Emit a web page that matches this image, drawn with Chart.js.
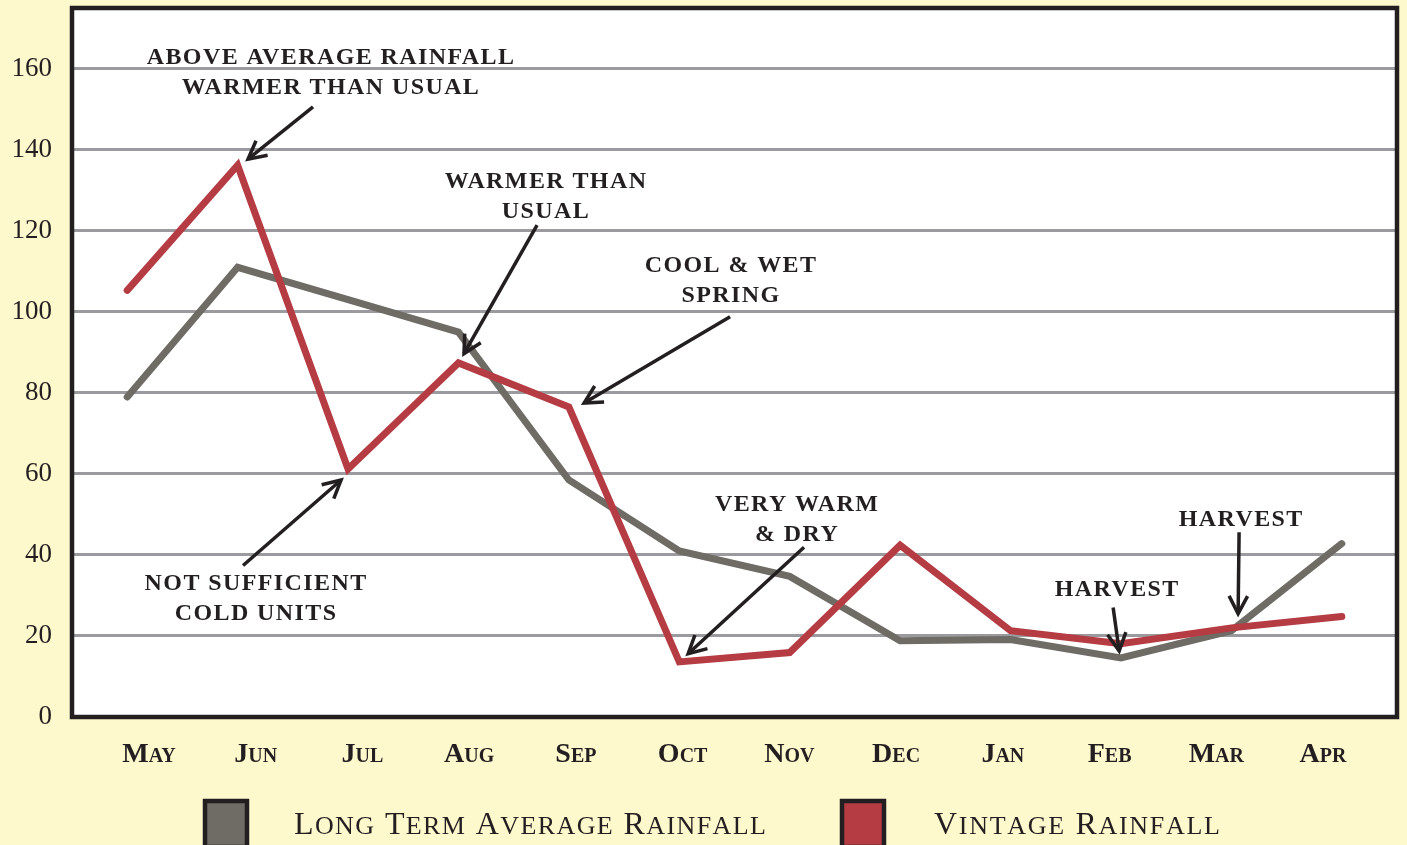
<!DOCTYPE html>
<html>
<head>
<meta charset="utf-8">
<script src="https://cdn.jsdelivr.net/npm/chart.js@4.4.1/dist/chart.umd.min.js"></script>
<style>
html,body{margin:0;padding:0;background:#fef8cd;}
#wrap{width:1407px;height:845px;position:relative;}
</style>
</head>
<body>
<div id="wrap"><canvas id="c" width="1407" height="845"></canvas></div>
<script>
// ---- data ----
const months = ['May','Jun','Jul','Aug','Sep','Oct','Nov','Dec','Jan','Feb','Mar','Apr'];
const longTermAverage = [79, 111, 103, 95, 58.5, 41, 34.7, 18.8, 19.1, 14.6, 21.3, 42.8];
const vintageRainfall = [105.3, 136.2, 61.2, 87.4, 76.5, 13.6, 15.9, 42.4, 21.3, 18.1, 22, 24.8];
const yTickValues = [0, 20, 40, 60, 80, 100, 120, 140, 160];
const seriesNames = ['Long Term Average Rainfall', 'Vintage Rainfall'];

// annotation notes (anchored in data space: [category index, value])
const notes = [
  {lines:['ABOVE AVERAGE RAINFALL','WARMER THAN USUAL'], text:[1.846,163.5], tail:[1.683,150.6], tip:[1.094,137.7]},
  {lines:['WARMER THAN','USUAL'], text:[3.793,132.8], tail:[3.712,121.4], tip:[3.05,89.7]},
  {lines:['COOL & WET','SPRING'], text:[5.469,112.2], tail:[5.46,98.8], tip:[4.138,77.5]},
  {lines:['VERY WARM','& DRY'], text:[6.067,53.0], tail:[6.13,41.9], tip:[5.08,15.6]},
  {lines:['NOT SUFFICIENT','COLD UNITS'], text:[1.167,33.7], tail:[1.049,37.4], tip:[1.937,58.5]},
  {lines:['HARVEST'], text:[8.966,32.2], tail:[8.929,27.0], tip:[8.984,16.3]},
  {lines:['HARVEST'], text:[10.089,49.5], tail:[10.07,45.6], tip:[10.061,25.5]}
];

const INK = '#231f20';
const GRAY = '#6f6b65';
const RED = '#b63c44';
const BG = '#fef8cd';
const FAM = '"Liberation Serif"';

function px(chart, p){
  const xs = chart.scales.x, ys = chart.scales.y;
  const x0 = xs.getPixelForValue(0), x1 = xs.getPixelForValue(1);
  return [x0 + (x1 - x0) * p[0], ys.getPixelForValue(p[1])];
}

function zeroPad(s){ s.paddingTop = 0; s.paddingBottom = 0; s.paddingLeft = 0; s.paddingRight = 0; }

// draw text in small caps: initial capitals large, the rest uppercase at a smaller size
function smallCaps(ctx, text, x, y, big, small, spacing){
  let cx = x;
  ctx.letterSpacing = spacing + 'px';
  text.split('').forEach(ch => {
    const isCap = ch === ch.toUpperCase() && ch !== ' ';
    const size = (isCap || ch === ' ') ? big : small;
    ctx.font = size + 'px ' + FAM;
    const c = ch.toUpperCase();
    ctx.fillText(c, cx, y);
    cx += ctx.measureText(c).width;
  });
}

const decor = {
  id: 'decor',
  beforeDraw(chart){
    const {ctx, chartArea:a} = chart;
    ctx.save();
    ctx.fillStyle = BG;
    ctx.fillRect(0,0,chart.width,chart.height);
    ctx.fillStyle = '#ffffff';
    ctx.fillRect(a.left,a.top,a.right-a.left,a.bottom-a.top);
    ctx.restore();
  },
  afterDraw(chart){
    const {ctx, chartArea:a} = chart;
    ctx.save();
    // frame
    ctx.strokeStyle = INK;
    ctx.lineWidth = 4.5;
    ctx.strokeRect(a.left, a.top, a.right-a.left, a.bottom-a.top);
    // notes
    ctx.fillStyle = INK;
    ctx.strokeStyle = INK;
    ctx.font = 'bold 24px ' + FAM;
    ctx.letterSpacing = '1.4px';
    ctx.textAlign = 'center';
    ctx.textBaseline = 'middle';
    notes.forEach(n => {
      const [tx, ty] = px(chart, n.text);
      n.lines.forEach((l, i) => ctx.fillText(l, tx, ty + 3 + i * 30));
      const [x1, y1] = px(chart, n.tail);
      const [x2, y2] = px(chart, n.tip);
      ctx.lineWidth = 3.5;
      ctx.lineCap = 'butt';
      ctx.beginPath(); ctx.moveTo(x1,y1); ctx.lineTo(x2,y2); ctx.stroke();
      const ang = Math.atan2(y2-y1, x2-x1);
      const L = 20, w = 0.48;
      ctx.beginPath();
      ctx.moveTo(x2 - L*Math.cos(ang-w), y2 - L*Math.sin(ang-w));
      ctx.lineTo(x2, y2);
      ctx.lineTo(x2 - L*Math.cos(ang+w), y2 - L*Math.sin(ang+w));
      ctx.lineJoin = 'miter';
      ctx.stroke();
    });
    // legend
    const items = [
      {ds: 0, boxX: 205, textX: 294, sp: 1.4},
      {ds: 1, boxX: 842, textX: 934, sp: 1.7}
    ];
    ctx.textAlign = 'left';
    ctx.textBaseline = 'alphabetic';
    items.forEach(it => {
      const ds = chart.data.datasets[it.ds];
      ctx.fillStyle = ds.borderColor;
      ctx.fillRect(it.boxX, 801, 42, 46);
      ctx.strokeStyle = INK;
      ctx.lineWidth = 4.5;
      ctx.strokeRect(it.boxX, 801, 42, 46);
      ctx.fillStyle = INK;
      smallCaps(ctx, ds.label, it.textX, 834, 32, 26, it.sp);
    });
    ctx.restore();
  }
};

new Chart(document.getElementById('c'), {
  type: 'line',
  data: {
    labels: months,
    datasets: [
      {label: seriesNames[0], data: longTermAverage, borderColor: GRAY, backgroundColor: GRAY,
       borderWidth: 7, pointRadius: 0, tension: 0, borderCapStyle: 'round', borderJoinStyle: 'miter', order: 1},
      {label: seriesNames[1], data: vintageRainfall, borderColor: RED, backgroundColor: RED,
       borderWidth: 7, pointRadius: 0, tension: 0, borderCapStyle: 'round', borderJoinStyle: 'miter', order: 0}
    ]
  },
  options: {
    responsive: false,
    animation: false,
    devicePixelRatio: 1,
    layout: {padding: {left: 0, top: 8, right: 10, bottom: 78}},
    plugins: {legend: {display: false}, tooltip: {enabled: false}},
    scales: {
      x: {
        offset: true,
        display: false
      },
      monthAxis: {
        type: 'linear',
        position: 'bottom',
        min: -0.7214, max: 11.693,
        afterBuildTicks(s){ s.ticks = months.map((m, i) => ({value: i})); },
        grid: {display: false, drawTicks: false},
        border: {display: false},
        ticks: {color: INK, padding: 21, maxRotation: 0, autoSkip: false,
                callback: (v) => months[v],
                font: {family: FAM, size: 28, weight: 'small-caps bold'}},
        afterFit(s){ s.height = 50; zeroPad(s); }
      },
      y: {
        min: 0, max: 175,
        afterBuildTicks(s){ s.ticks = yTickValues.map(v => ({value: v})); },
        grid: {color: '#9b9b9f', lineWidth: 3, drawTicks: false},
        border: {display: false},
        ticks: {color: INK, padding: 20, font: {family: FAM, size: 27}},
        afterFit(s){ s.width = 72; zeroPad(s); }
      }
    }
  },
  plugins: [decor]
});
</script>
</body>
</html>
